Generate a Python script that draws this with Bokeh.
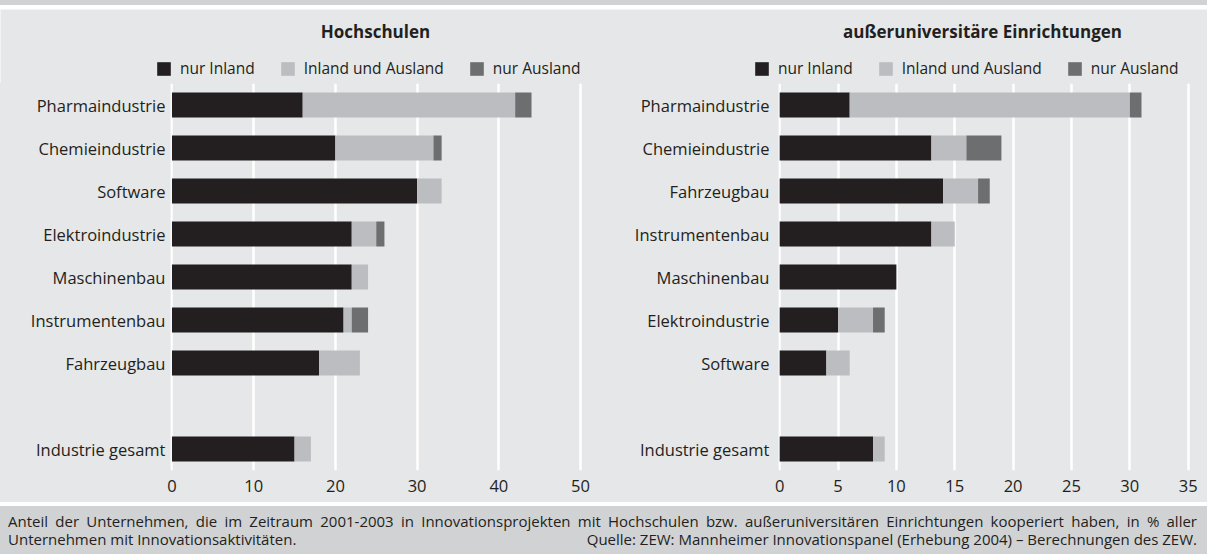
from bokeh.plotting import figure
from bokeh.models import Range1d, FixedTicker, Legend, LegendItem, Label, Div, ColumnDataSource
from bokeh.layouts import row, column
from bokeh.embed import file_html
from bokeh.resources import INLINE

FONT = "Open Sans"
C_IN = "#231f20"
C_BOTH = "#bcbdc0"
C_AUS = "#6d6e70"
BG = "#e6e7e8"
BAND = "#d1d2d4"
TXT = "#231f20"

series_labels = ["nur Inland", "Inland und Ausland", "nur Ausland"]
series_colors = [C_IN, C_BOTH, C_AUS]

# Hochschulen
hs_categories = ["Pharmaindustrie", "Chemieindustrie", "Software", "Elektroindustrie",
                 "Maschinenbau", "Instrumentenbau", "Fahrzeugbau", "Industrie gesamt"]
hs_slots = [0, 1, 2, 3, 4, 5, 6, 8]
hs_nur_inland = [16, 20, 30, 22, 22, 21, 18, 15]
hs_inland_ausland = [26, 12, 3, 3, 2, 1, 5, 2]
hs_nur_ausland = [2, 1, 0, 1, 0, 2, 0, 0]
hs_xticks = [0, 10, 20, 30, 40, 50]

# außeruniversitäre Einrichtungen
au_categories = ["Pharmaindustrie", "Chemieindustrie", "Fahrzeugbau", "Instrumentenbau",
                 "Maschinenbau", "Elektroindustrie", "Software", "Industrie gesamt"]
au_slots = [0, 1, 2, 3, 4, 5, 6, 8]
au_nur_inland = [6, 13, 14, 13, 10, 5, 4, 8]
au_inland_ausland = [24, 3, 3, 2, 0, 3, 2, 1]
au_nur_ausland = [1, 3, 1, 0, 0, 1, 0, 0]
au_xticks = [0, 5, 10, 15, 20, 25, 30, 35]

title_hs = "Hochschulen"
title_au = "außeruniversitäre Einrichtungen"

note1 = ("Anteil der Unternehmen, die im Zeitraum 2001-2003 in Innovationsprojekten mit Hochschulen "
         "bzw. außeruniversitären Einrichtungen kooperiert haben, in % aller")
note2 = "Unternehmen mit Innovationsaktivitäten."
source = "Quelle: ZEW: Mannheimer Innovationspanel (Erhebung 2004) – Berechnungen des ZEW."

W = 1207
HEAD_H = 74

src_hs = ColumnDataSource(dict(y=hs_slots, a=hs_nur_inland, b=hs_inland_ausland, c=hs_nur_ausland))
src_au = ColumnDataSource(dict(y=au_slots, a=au_nur_inland, b=au_inland_ausland, c=au_nur_ausland))

# header: both titles and both legends (pixel-mapped ranges)
head = figure(width=W, height=HEAD_H, output_backend="svg", toolbar_location=None,
              title=None, x_range=Range1d(0, W), y_range=Range1d(0, HEAD_H),
              min_border=0, x_axis_type=None, y_axis_type=None)
head.background_fill_color = BG
head.border_fill_color = BG
head.outline_line_color = None
head.grid.visible = False
# hidden proxies of the series, used only for the legend swatches
proxies = head.hbar_stack(["a", "b", "c"], y="y", height=0.58, source=src_hs,
                          color=series_colors, line_color=None)
for r in proxies:
    r.visible = False

for ttl, tx, lx in [(title_hs, 375, 155), (title_au, 982, 753)]:
    head.add_layout(Label(x=tx, y=HEAD_H - 22, text=ttl, text_font=FONT,
                          text_font_size="17px", text_font_style="bold", text_color=TXT,
                          text_align="center", text_baseline="middle"))
    leg = Legend(items=[LegendItem(label=series_labels[i], renderers=[proxies[i]]) for i in range(3)],
                 orientation="horizontal", location=(lx, 4),
                 glyph_width=17, glyph_height=17, label_standoff=8, spacing=24,
                 padding=0, margin=0, label_height=17,
                 label_text_font=FONT, label_text_font_size="15.5px", label_text_color=TXT,
                 label_text_baseline="middle",
                 inactive_fill_alpha=0, inactive_fill_color=BG,
                 background_fill_alpha=0, border_line_alpha=0)
    head.add_layout(leg, "center")


def make_chart(cats, src, slots, x0, x1, xticks, width, left, right, standoff):
    p = figure(width=width, height=493 - HEAD_H, output_backend="svg", toolbar_location=None,
               title=None, x_range=Range1d(x0, x1), y_range=Range1d(8.5, -0.5),
               min_border_left=left, min_border_right=right,
               min_border_top=0, min_border_bottom=32)
    p.background_fill_color = BG
    p.border_fill_color = BG
    p.outline_line_color = None
    p.hbar_stack(["a", "b", "c"], y="y", height=0.58, source=src,
                 color=series_colors, line_color=None)
    p.ygrid.visible = False
    p.xgrid.grid_line_color = "white"
    p.xgrid.grid_line_width = 2.5
    p.xgrid.ticker = FixedTicker(ticks=xticks)

    xa = p.xaxis[0]
    xa.ticker = FixedTicker(ticks=xticks)
    xa.axis_line_color = None
    xa.major_tick_line_color = None
    xa.minor_tick_line_color = None
    xa.major_tick_out = 0
    xa.major_tick_in = 0
    xa.minor_tick_out = 0
    xa.major_label_text_font = FONT
    xa.major_label_text_font_size = "16.5px"
    xa.major_label_text_color = TXT
    xa.major_label_standoff = 9

    ya = p.yaxis[0]
    ya.ticker = FixedTicker(ticks=slots)
    ya.major_label_overrides = {s: n for s, n in zip(slots, cats)}
    ya.axis_line_color = None
    ya.major_tick_line_color = None
    ya.minor_tick_line_color = None
    ya.major_tick_out = 0
    ya.major_tick_in = 0
    ya.minor_tick_out = 0
    ya.major_label_text_font = FONT
    ya.major_label_text_font_size = "16.5px"
    ya.major_label_text_color = TXT
    ya.major_label_standoff = standoff
    return p


p1 = make_chart(hs_categories, src_hs, hs_slots, -0.18, 50.24, hs_xticks, 600, 170, 18, 5)
p2 = make_chart(au_categories, src_au, au_slots, -0.1, 35.2, au_xticks, 607, 178, 17, 9)

band = Div(text="", width=W, height=5, styles={"background-color": BAND})
foot_html = (
    f"<div style=\"width:{W}px;box-sizing:border-box;padding:6px 10px 0 8px;font-family:'Open Sans';"
    f"font-size:15px;color:{TXT};line-height:18px;\">"
    f"<div style=\"text-align:justify;text-align-last:justify;white-space:nowrap;\">{note1}</div>"
    f"<div style=\"display:flex;justify-content:space-between;white-space:nowrap;\"><span>{note2}</span>"
    f"<span>{source}</span></div></div>"
)
foot = Div(text=foot_html, width=W, height=48, styles={"background-color": BAND})

charts = row(p1, p2, spacing=0, styles={"background-color": BG})
band.margin = (0, 0, 0, 0)
head.margin = (4, 0, 0, 0)
charts.margin = (0, 0, 0, 0)
foot.margin = (4, 0, 0, 0)
layout = column(band, head, charts, foot, spacing=0,
                styles={"position": "absolute", "left": "0px", "top": "0px"})

open("out.html", "w").write(file_html(layout, INLINE))
